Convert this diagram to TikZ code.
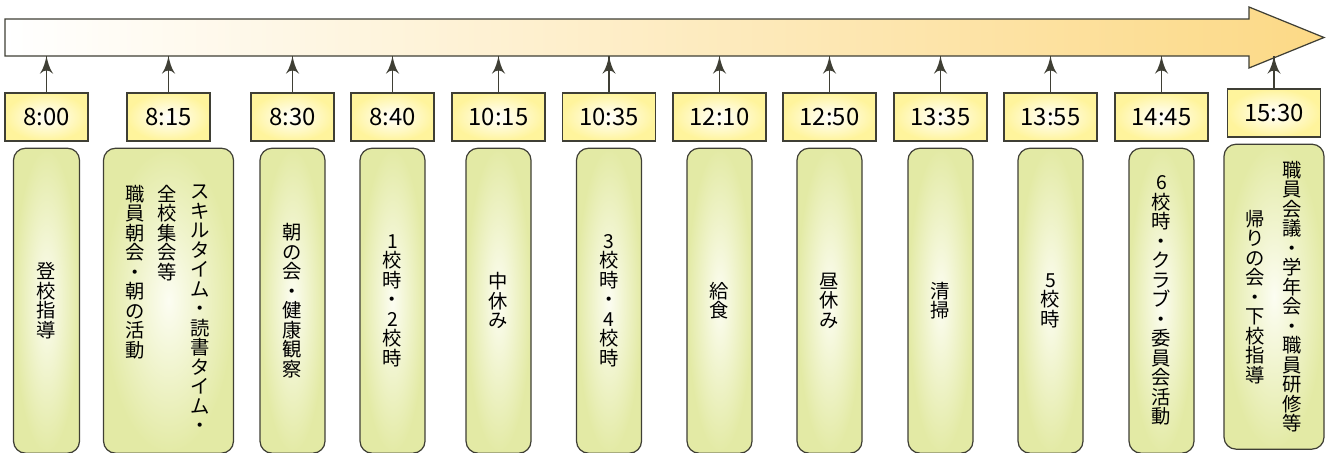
\documentclass[tikz,border=0pt]{standalone}
\usepackage{fontspec}
\setmainfont{Noto Sans CJK JP}
\usetikzlibrary{arrows}
\usetikzlibrary{decorations.markings}
\usetikzlibrary{positioning}
\definecolor{timeyellow}{HTML}{FFF49C}
\definecolor{slotgreen}{HTML}{E3EAA5}
\definecolor{slotcore}{HTML}{FCFDF2}
\definecolor{arrowgold}{HTML}{FCD986}
\definecolor{edge}{HTML}{3F3F35}
\newcommand{\tatefont}{\fontsize{11}{11.1}\selectfont}
\tikzset{->/.style = {decoration={markings,
                                  mark=at position 1 with {\arrow[scale=2.2]{latex'}}},
                      postaction={decorate}}}
\tikzset{timebox/.style = {draw=edge, line width=0.7pt, inner color=white, outer color=timeyellow,
                           minimum height=0.96cm, font=\fontsize{13.6}{14}\selectfont}}
\tikzset{slotbox/.style = {draw=edge, line width=0.7pt, rounded corners=0.24cm, inner color=slotcore,
                           outer color=slotgreen, minimum width=1.3cm, minimum height=6.1cm,
                           inner sep=0, align=center, font=\tatefont}}
\tikzset{tate/.style = {inner sep=0, align=center, font=\tatefont}}

\begin{document}
\begin{tikzpicture}[x=0.02cm, y=-0.02cm]
  \useasboundingbox (0,0) rectangle (1332,453);
  % time line
  \draw [draw=edge, line width=0.7pt, left color=white, right color=arrowgold]
    (5,19) -- (1249,19) -- (1249,7) -- (1324,37.5) -- (1249,68) -- (1249,56) -- (5,56) -- cycle;
  \coordinate (base) at (0,56);

  \node [timebox, minimum width=1.66cm] (t1) at (46.5,117) {8:00};
  \node [timebox, minimum width=1.66cm] (t2) at (168.5,117) {8:15};
  \node [timebox, minimum width=1.66cm] (t3) at (292.5,117) {8:30};
  \node [timebox, minimum width=1.66cm] (t4) at (392.5,117) {8:40};
  \node [timebox, minimum width=1.86cm] (t5) at (498.5,117) {10:15};
  \node [timebox, minimum width=1.86cm] (t6) at (609,117) {10:35};
  \node [timebox, minimum width=1.86cm] (t7) at (719.5,117) {12:10};
  \node [timebox, minimum width=1.86cm] (t8) at (829.5,117) {12:50};
  \node [timebox, minimum width=1.86cm] (t9) at (940.5,117) {13:35};
  \node [timebox, minimum width=1.86cm] (t10) at (1050.5,117) {13:55};
  \node [timebox, minimum width=1.86cm] (t11) at (1161.5,117) {14:45};
  \node [timebox, minimum width=1.86cm] (t12) at (1274,113) {15:30};

  \draw [->, draw=edge, semithick] (t1.north) -- (t1.north |- base);
  \draw [->, draw=edge, semithick] (t2.north) -- (t2.north |- base);
  \draw [->, draw=edge, semithick] (t3.north) -- (t3.north |- base);
  \draw [->, draw=edge, semithick] (t4.north) -- (t4.north |- base);
  \draw [->, draw=edge, semithick] (t5.north) -- (t5.north |- base);
  \draw [->, draw=edge, semithick] (t6.north) -- (t6.north |- base);
  \draw [->, draw=edge, semithick] (t7.north) -- (t7.north |- base);
  \draw [->, draw=edge, semithick] (t8.north) -- (t8.north |- base);
  \draw [->, draw=edge, semithick] (t9.north) -- (t9.north |- base);
  \draw [->, draw=edge, semithick] (t10.north) -- (t10.north |- base);
  \draw [->, draw=edge, semithick] (t11.north) -- (t11.north |- base);
  \draw [->, draw=edge, semithick] (t12.north) -- (t12.north |- base);

  \node [slotbox, minimum width=1.32cm, below=0.12cm of t1] (s1) {登\\校\\指\\導};
  \node [slotbox, minimum width=2.6cm, below=0.12cm of t2] (s2) {};
  \node [tate, anchor=north] (s2a) at ([xshift=0.64cm, yshift=-0.74cm]s2.north)
    {ス\\キ\\ル\\タ\\イ\\ム\\・\\読\\書\\タ\\イ\\ム\\・};
  \node [tate, anchor=north] (s2b) at ([xshift=-0.02cm, yshift=-0.74cm]s2.north)
    {全\\校\\集\\会\\等};
  \node [tate, anchor=north] (s2c) at ([xshift=-0.66cm, yshift=-0.74cm]s2.north)
    {職\\員\\朝\\会\\・\\朝\\の\\活\\動};
  \node [slotbox, below=0.12cm of t3] (s3) {朝\\の\\会\\・\\健\\康\\観\\察};
  \node [slotbox, below=0.12cm of t4] (s4) {1\\校\\時\\・\\2\\校\\時};
  \node [slotbox, below=0.12cm of t5] (s5) {中\\休\\み};
  \node [slotbox, below=0.12cm of t6] (s6) {3\\校\\時\\・\\4\\校\\時};
  \node [slotbox, below=0.12cm of t7] (s7) {給\\食};
  \node [slotbox, below=0.12cm of t8] (s8) {昼\\休\\み};
  \node [slotbox, below=0.12cm of t9] (s9) {清\\掃};
  \node [slotbox, below=0.12cm of t10] (s10) {5\\校\\時};
  \node [slotbox, below=0.12cm of t11] (s11)
    {6\\校\\時\\・\\ク\\ラ\\ブ\\・\\委\\員\\会\\活\\動};
  \node [slotbox, minimum width=2cm, below=0.12cm of t12] (s12) {};
  \node [tate] (s12a) at ([xshift=0.36cm]s12.center)
    {職\\員\\会\\議\\・\\学\\年\\会\\・\\職\\員\\研\\修\\等};
  \node [tate] (s12b) at ([xshift=-0.38cm]s12.center)
    {帰\\り\\の\\会\\・\\下\\校\\指\\導};
\end{tikzpicture}
\end{document}
